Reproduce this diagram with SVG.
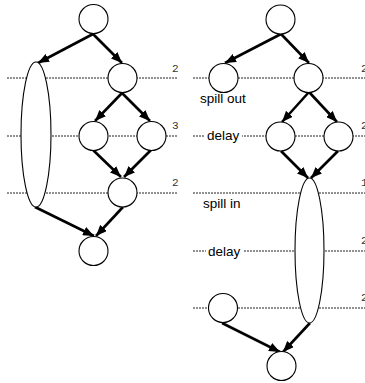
<svg xmlns="http://www.w3.org/2000/svg" width="365" height="383" viewBox="0 0 365 383">
<style>
.dot{stroke:#222;stroke-width:1;stroke-dasharray:2 1;fill:none}
.node{fill:#fff;stroke:#000;stroke-width:1.1}
.edge{stroke:#000;stroke-width:2.6;fill:none;marker-end:url(#ah)}
.lbl{font-family:"Liberation Sans",Arial,sans-serif;font-size:13.5px;fill:#000}
.num{font-family:"Liberation Mono","DejaVu Sans Mono",monospace;font-size:11px;fill:#333}
</style>
<defs>
<marker id="ah" markerUnits="userSpaceOnUse" markerWidth="11" markerHeight="9" refX="11" refY="4.5" orient="auto">
<path d="M0,0 L11,4.5 L0,9 z" fill="#000"/>
</marker>
</defs>
<rect width="365" height="383" fill="#fff"/>
<g id="levels">
<line class="dot" x1="7" y1="78" x2="178" y2="78"/>
<line class="dot" x1="7" y1="136" x2="178" y2="136"/>
<line class="dot" x1="7" y1="193" x2="178" y2="193"/>
<line class="dot" x1="193" y1="78" x2="365" y2="78"/>
<line class="dot" x1="193" y1="136" x2="365" y2="136"/>
<line class="dot" x1="193" y1="193" x2="365" y2="193"/>
<line class="dot" x1="193" y1="251" x2="365" y2="251"/>
<line class="dot" x1="193" y1="308" x2="365" y2="308"/>
<text class="num" x="172" y="72">2</text>
<text class="num" x="172" y="129">3</text>
<text class="num" x="172" y="186">2</text>
<text class="num" x="361" y="72">2</text>
<text class="num" x="361" y="129">2</text>
<text class="num" x="361" y="186">1</text>
<text class="num" x="361" y="244">2</text>
<text class="num" x="361" y="301">2</text>
</g>
<g id="connectors">
<line class="edge" x1="93" y1="34" x2="38" y2="63"/>
<line class="edge" x1="93" y1="34" x2="122" y2="63"/>
<line class="edge" x1="122" y1="93" x2="95" y2="121"/>
<line class="edge" x1="122" y1="93" x2="150" y2="121"/>
<line class="edge" x1="93" y1="150" x2="121" y2="177"/>
<line class="edge" x1="151" y1="150" x2="124" y2="177"/>
<line class="edge" x1="35" y1="207" x2="94" y2="236"/>
<line class="edge" x1="123" y1="207" x2="96" y2="236"/>
<line class="edge" x1="281" y1="34" x2="225" y2="63"/>
<line class="edge" x1="281" y1="34" x2="309" y2="63"/>
<line class="edge" x1="309" y1="92" x2="282" y2="122"/>
<line class="edge" x1="309" y1="92" x2="337" y2="122"/>
<line class="edge" x1="281" y1="151" x2="308" y2="178"/>
<line class="edge" x1="338" y1="151" x2="311" y2="178"/>
<line class="edge" x1="310" y1="323" x2="283" y2="352"/>
<line class="edge" x1="222" y1="323" x2="280" y2="352"/>
</g>
<g id="L_top"><circle class="node" cx="93.5" cy="19" r="14.5"/></g>
<g id="L_ellipse"><ellipse class="node" cx="36" cy="134.5" rx="15" ry="72.5"/></g>
<g id="L_a"><circle class="node" cx="122.5" cy="78" r="14.5"/></g>
<g id="L_b"><circle class="node" cx="93.5" cy="136" r="14.5"/></g>
<g id="L_c"><circle class="node" cx="151.5" cy="136" r="14.5"/></g>
<g id="L_d"><circle class="node" cx="122.5" cy="192.5" r="14.5"/></g>
<g id="L_bottom"><circle class="node" cx="93.5" cy="251" r="14.5"/></g>
<g id="R_top"><circle class="node" cx="280.5" cy="19.5" r="14.5"/></g>
<g id="R_spillout"><circle class="node" cx="223.5" cy="78" r="14.5"/></g>
<g id="R_a"><circle class="node" cx="308.5" cy="78" r="14.5"/></g>
<g id="R_b"><circle class="node" cx="280.5" cy="136.5" r="14.5"/></g>
<g id="R_c"><circle class="node" cx="338.5" cy="136.5" r="14.5"/></g>
<g id="R_ellipse"><ellipse class="node" cx="309.5" cy="250.5" rx="14.5" ry="72.5"/></g>
<g id="R_left"><circle class="node" cx="223" cy="308" r="14.5"/></g>
<g id="R_bottom"><circle class="node" cx="281.5" cy="366" r="14.5"/></g>
<g id="labels">
<text class="lbl" x="200" y="103">spill out</text>
<rect x="205" y="128" width="37" height="16" fill="#fff"/>
<text class="lbl" x="207" y="140">delay</text>
<text class="lbl" x="203" y="208">spill in</text>
<rect x="206" y="243" width="37" height="16" fill="#fff"/>
<text class="lbl" x="208" y="256">delay</text>
</g>
</svg>
